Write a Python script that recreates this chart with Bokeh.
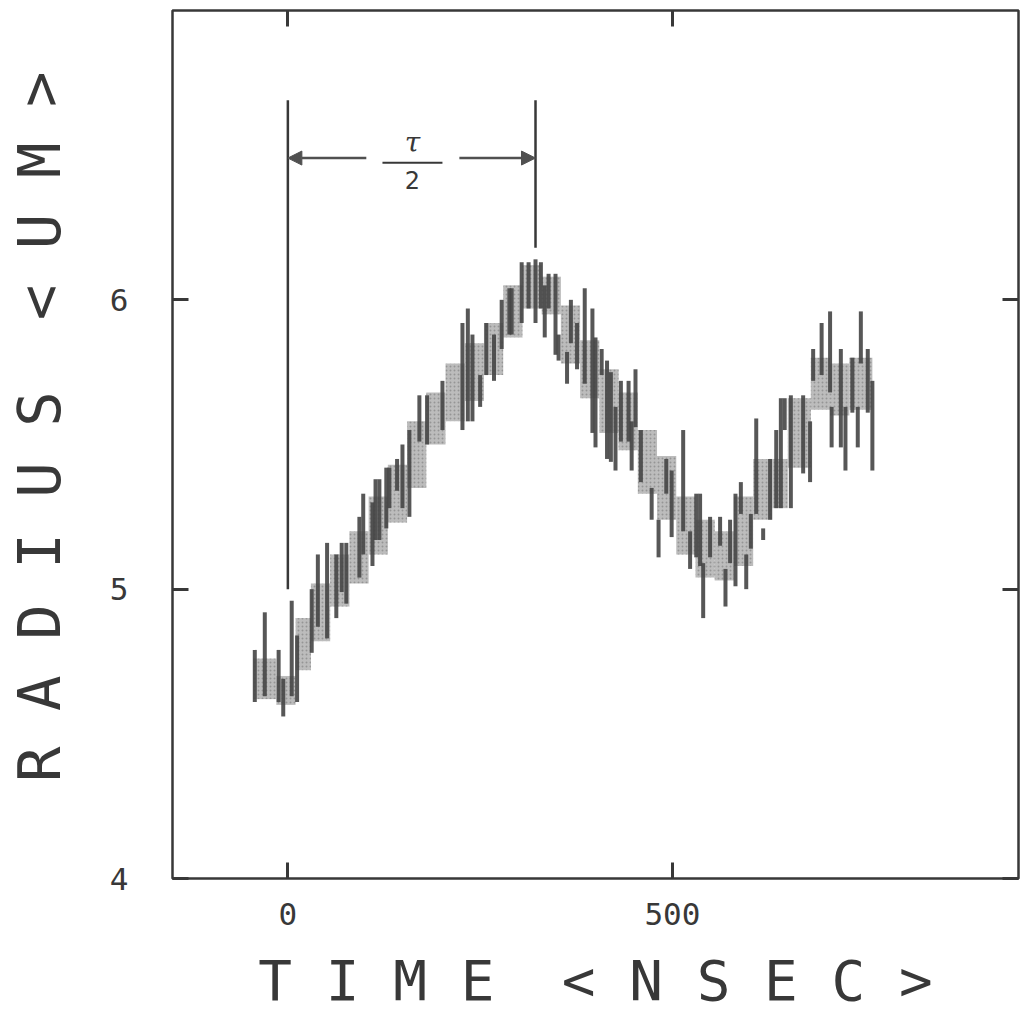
from bokeh.plotting import figure
from bokeh.models import Range1d, LinearAxis, FixedTicker, Arrow, NormalHead, ColumnDataSource
from bokeh.core.properties import value
from bokeh.embed import file_html
from bokeh.resources import INLINE

# ---- data (time in ns, radius in um) ----
band_t0 = [-45, -15, 10, 30, 55, 80, 105, 130, 155, 180, 205, 230, 255, 280, 305, 330,
           355, 380, 405, 430, 455, 480, 505, 530, 555, 580, 605, 630, 650, 680, 705, 730]
band_t1 = [-15, 10, 30, 55, 80, 105, 130, 155, 180, 205, 230, 255, 280, 305, 330, 355,
           380, 405, 430, 455, 480, 505, 530, 555, 580, 605, 630, 650, 680, 705, 730, 760]
band_lo = [4.62, 4.60, 4.72, 4.82, 4.94, 5.02, 5.12, 5.23, 5.35, 5.50, 5.58, 5.65, 5.74, 5.87, 5.97, 5.95,
           5.78, 5.66, 5.54, 5.48, 5.33, 5.24, 5.12, 5.04, 5.03, 5.08, 5.24, 5.28, 5.42, 5.62, 5.60, 5.62]
band_hi = [4.76, 4.70, 4.90, 5.02, 5.12, 5.20, 5.32, 5.43, 5.58, 5.68, 5.78, 5.85, 5.92, 6.05, 6.12, 6.08,
           5.98, 5.86, 5.76, 5.68, 5.55, 5.46, 5.32, 5.24, 5.20, 5.32, 5.45, 5.45, 5.66, 5.80, 5.78, 5.80]

spike_t = [-43, -30, -12, -6, 5, 12, 31, 39, 51, 63, 70, 76, 93, 98, 110, 114, 119, 128, 132, 142,
           149, 158, 171, 181, 201, 227, 234, 240, 250, 258, 268, 278, 288, 291, 304, 313, 322, 329,
           334, 339, 348, 352, 363, 368, 376, 386, 396, 400, 408, 415, 420, 426, 433, 443, 447, 452,
           459, 473, 482, 492, 499, 514, 523, 531, 536, 540, 549, 562, 569, 575, 582, 589, 596, 602,
           609, 618, 627, 635, 641, 646, 654, 670, 679, 683, 694, 705, 707, 719, 725, 734, 741, 745,
           754, 760]
spike_lo = [4.61, 4.63, 4.61, 4.56, 4.63, 4.61, 4.78, 4.87, 4.83, 4.90, 4.99, 4.95, 5.04, 5.12, 5.08, 5.17,
            5.17, 5.21, 5.28, 5.34, 5.28, 5.25, 5.51, 5.50, 5.55, 5.55, 5.58, 5.58, 5.63, 5.74, 5.72, 5.83,
            5.88, 5.88, 5.92, 5.97, 5.92, 5.97, 5.87, 5.97, 5.81, 5.79, 5.71, 5.85, 5.76, 5.71, 5.54, 5.49,
            5.74, 5.45, 5.44, 5.41, 5.51, 5.51, 5.41, 5.56, 5.37, 5.24, 5.11, 5.33, 5.18, 5.20, 5.07, 5.11,
            5.08, 4.90, 5.11, 5.15, 4.94, 5.09, 5.01, 5.26, 5.00, 5.14, 5.26, 5.17, 5.24, 5.28, 5.28, 5.55,
            5.28, 5.40, 5.37, 5.72, 5.74, 5.68, 5.49, 5.49, 5.41, 5.61, 5.49, 5.78, 5.61, 5.41]
spike_hi = [4.79, 4.92, 4.79, 4.69, 4.96, 4.84, 5.00, 5.12, 5.16, 5.12, 5.16, 5.16, 5.25, 5.33, 5.30, 5.38,
            5.38, 5.42, 5.42, 5.45, 5.50, 5.55, 5.67, 5.67, 5.72, 5.92, 5.97, 5.88, 5.74, 5.92, 5.88, 6.00,
            6.04, 6.04, 6.13, 6.13, 6.14, 6.13, 6.05, 6.09, 6.09, 5.88, 5.82, 6.00, 5.92, 6.04, 5.97, 5.87,
            5.83, 5.79, 5.75, 5.63, 5.72, 5.72, 5.58, 5.76, 5.55, 5.35, 5.24, 5.45, 5.41, 5.55, 5.20, 5.33,
            5.33, 5.09, 5.25, 5.25, 5.07, 5.24, 5.33, 5.37, 5.12, 5.26, 5.59, 5.21, 5.45, 5.55, 5.66, 5.66,
            5.67, 5.67, 5.58, 5.83, 5.92, 5.96, 5.63, 5.83, 5.63, 5.80, 5.63, 5.96, 5.83, 5.72]

# annotation (tau/2 marker)
marker_t = [0, 322]
marker_lo = [5.0, 6.18]
marker_hi = [6.69, 6.69]
arrow_y = 6.49
arrow_left = (102, 0)      # start, end (ns)
arrow_right = (223, 322)   # start, end (ns)
frac_t = 162
frac_bar = (123, 201, 6.474)

x_ticks = [0, 500]
y_ticks = [4, 5, 6]

INK = "#383838"
FONT = "DejaVu Sans Mono"
NB = "\u00a0"

p = figure(width=1022, height=1033, x_range=Range1d(-150, 950), y_range=Range1d(4, 7),
           output_backend="svg", toolbar_location=None, x_axis_type=None, y_axis_type=None,
           min_border_left=172, min_border_right=4, min_border_top=10, min_border_bottom=155,
           background_fill_color="white", border_fill_color="white")
p.outline_line_color = INK
p.outline_line_width = 2.5

def make_axis(ticks, show_labels):
    ax = LinearAxis(ticker=FixedTicker(ticks=ticks))
    ax.axis_line_color = None
    ax.major_tick_in = 16
    ax.major_tick_out = 0
    ax.major_tick_line_color = INK
    ax.major_tick_line_width = 3
    ax.minor_tick_line_color = None
    if show_labels:
        ax.major_label_text_font = FONT
        ax.major_label_text_font_size = "31px"
        ax.major_label_text_color = INK
    else:
        ax.major_label_text_font_size = "1px"
        ax.major_label_text_color = None
        ax.major_label_standoff = 0
    return ax

bottom = make_axis(x_ticks, True)
bottom.major_label_standoff = 24
bottom.axis_label = "T I M E" + NB + " < N S E C >"
bottom.axis_label_text_font = FONT
bottom.axis_label_text_font_style = "normal"
bottom.axis_label_text_font_size = "56px"
bottom.axis_label_text_color = INK
bottom.axis_label_standoff = 20
p.add_layout(bottom, "below")

left = make_axis(y_ticks, True)
left.major_label_standoff = 44
left.axis_label = NB + "R A D I U S" + NB + " < U M >"
left.axis_label_text_font = FONT
left.axis_label_text_font_style = "normal"
left.axis_label_text_font_size = "59px"
left.axis_label_text_color = INK
left.axis_label_standoff = 33
p.add_layout(left, "left")

p.add_layout(make_axis(x_ticks, False), "above")
p.add_layout(make_axis(y_ticks, False), "right")

# data band (stippled grey) and dark spikes
band = ColumnDataSource(dict(left=band_t0, right=band_t1, bottom=band_lo, top=band_hi))
p.quad(left="left", right="right", bottom="bottom", top="top", source=band,
       fill_color="#b0b0b0", fill_alpha=0.85, line_color=None,
       hatch_pattern=".", hatch_color="#6e6e6e", hatch_scale=4, hatch_alpha=0.5)

spikes = ColumnDataSource(dict(x=spike_t, lo=spike_lo, hi=spike_hi))
p.segment(x0="x", y0="lo", x1="x", y1="hi", source=spikes, line_color="#454545",
          line_width=4, line_alpha=0.9)

# tau/2 annotation
p.segment(x0=marker_t, y0=marker_lo, x1=marker_t, y1=marker_hi, line_color=INK, line_width=2.5)
p.add_layout(Arrow(end=NormalHead(size=14, fill_color="#505050", line_color="#505050"),
                   x_start=arrow_left[0], y_start=arrow_y, x_end=arrow_left[1], y_end=arrow_y,
                   line_color="#505050", line_width=2.5))
p.add_layout(Arrow(end=NormalHead(size=14, fill_color="#505050", line_color="#505050"),
                   x_start=arrow_right[0], y_start=arrow_y, x_end=arrow_right[1], y_end=arrow_y,
                   line_color="#505050", line_width=2.5))
p.segment(x0=[frac_bar[0]], y0=[frac_bar[2]], x1=[frac_bar[1]], y1=[frac_bar[2]],
          line_color=INK, line_width=2)
p.text(x=[frac_t], y=[6.545], text=["τ"], text_font=value("DejaVu Serif"),
       text_font_style="italic", text_font_size="28px", text_align="center",
       text_baseline="middle", text_color=INK)
p.text(x=[frac_t], y=[6.415], text=["2"], text_font=value("DejaVu Sans"),
       text_font_size="24px", text_align="center", text_baseline="middle", text_color=INK)

open("out.html", "w").write(file_html(p, INLINE))
